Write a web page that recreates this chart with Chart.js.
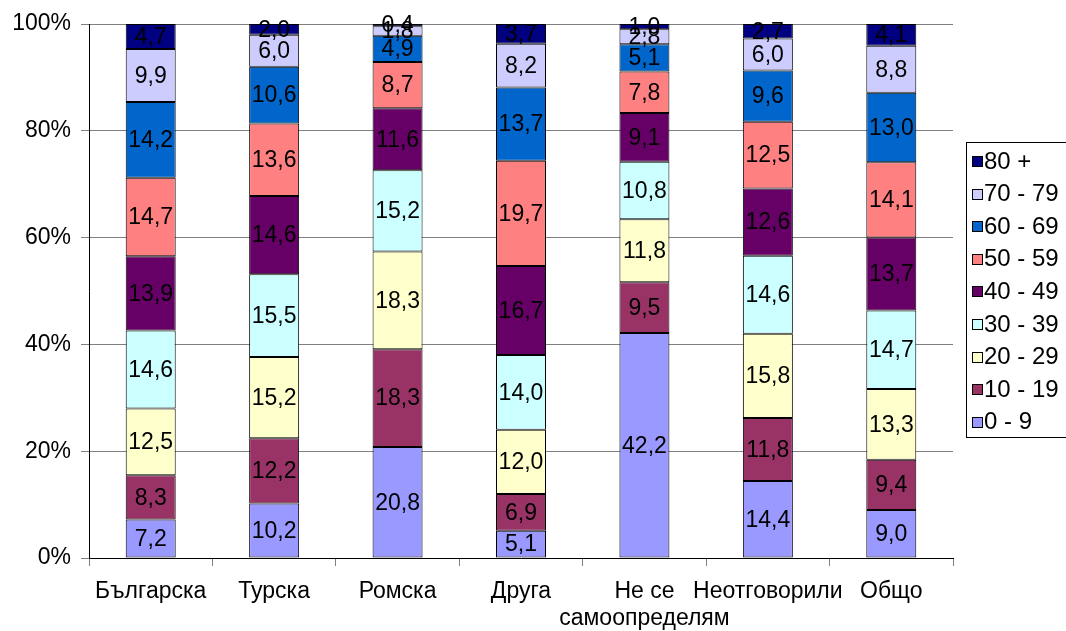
<!DOCTYPE html>
<html><head><meta charset="utf-8">
<script src="https://cdn.jsdelivr.net/npm/chart.js@4.4.0/dist/chart.umd.min.js"></script>
<style>html,body{margin:0;padding:0;background:#fff}#wrap{width:1066px;height:631px;position:relative}</style>
</head><body><div id="wrap"><canvas id="c" width="1066" height="631"></canvas></div>
<script>
const categories = ['Българска','Турска','Ромска','Друга',['Не се','самоопределям'],'Неотговорили','Общо'];
const ageGroups = ['0 - 9','10 - 19','20 - 29','30 - 39','40 - 49','50 - 59','60 - 69','70 - 79','80 +'];
const colors = ['#9999FF','#993366','#FFFFCC','#CCFFFF','#660066','#FF8080','#0066CC','#CCCCFF','#000080'];
const v0_9   = [7.2,10.2,20.8,5.1,42.2,14.4,9.0];
const v10_19 = [8.3,12.2,18.3,6.9,9.5,11.8,9.4];
const v20_29 = [12.5,15.2,18.3,12.0,11.8,15.8,13.3];
const v30_39 = [14.6,15.5,15.2,14.0,10.8,14.6,14.7];
const v40_49 = [13.9,14.6,11.6,16.7,9.1,12.6,13.7];
const v50_59 = [14.7,13.6,8.7,19.7,7.8,12.5,14.1];
const v60_69 = [14.2,10.6,4.9,13.7,5.1,9.6,13.0];
const v70_79 = [9.9,6.0,1.8,8.2,2.8,6.0,8.8];
const v80p   = [4.7,2.0,0.4,3.7,1.0,2.7,4.1];
const yTicks = ['0%','20%','40%','60%','80%','100%'];
const series = [v0_9,v10_19,v20_29,v30_39,v40_49,v50_59,v60_69,v70_79,v80p];

// normalize to 100% stacked
const totals = categories.map((_,i)=>series.reduce((s,a)=>s+a[i],0));
const datasets = series.map((arr,k)=>({
  label: ageGroups[k],
  data: arr.map((v,i)=>v/totals[i]*100),
  raw: arr,
  backgroundColor: colors[k],
  borderColor:'#000',
  borderWidth:1,
  borderSkipped:false,
  barPercentage:0.405,
  categoryPercentage:1.0
}));

const FONT = '"Liberation Sans", Arial, sans-serif';

const labelPlugin = {
  id:'segLabels',
  afterDatasetsDraw(chart){
    const ctx = chart.ctx;
    ctx.save();
    ctx.font = '23px '+FONT;
    ctx.fillStyle = '#000';
    ctx.textAlign='center';
    ctx.textBaseline='middle';
    chart.data.datasets.forEach((ds,di)=>{
      const meta = chart.getDatasetMeta(di);
      meta.data.forEach((el,i)=>{
        const t = ds.raw[i].toFixed(1).replace('.',',');
        const y = (el.y + el.base)/2;
        ctx.fillText(t, el.x, y+1);
      });
    });
    ctx.restore();
  }
};

const legendPlugin = {
  id:'boxLegend',
  afterDraw(chart){
    const ctx = chart.ctx;
    ctx.save();
    const x0=966.5, y0=142.5, w=120, h=295;
    ctx.fillStyle='#fff';
    ctx.fillRect(x0,y0,w,h);
    ctx.strokeStyle='#000'; ctx.lineWidth=1;
    ctx.strokeRect(x0,y0,w,h);
    ctx.font='24px '+FONT;
    ctx.textBaseline='middle'; ctx.textAlign='left';
    const n = chart.data.datasets.length;
    for(let j=0;j<n;j++){
      const ds = chart.data.datasets[n-1-j];
      const cy = 161 + j*32.6;
      const my = Math.round(cy-5)+0.5;
      ctx.fillStyle = ds.backgroundColor;
      ctx.fillRect(972.5, my, 10, 10);
      ctx.strokeStyle='#000';
      ctx.strokeRect(972.5, my, 10, 10);
      ctx.fillStyle='#000';
      ctx.fillText(ds.label, 984, cy+1);
    }
    ctx.restore();
  }
};

new Chart(document.getElementById('c'),{
  type:'bar',
  data:{labels:categories,datasets},
  plugins:[labelPlugin,legendPlugin],
  options:{
    responsive:false,
    animation:false,
    layout:{padding:{top:24,right:113,left:0,bottom:0}},
    plugins:{legend:{display:false},tooltip:{enabled:false}},
    scales:{
      x:{
        stacked:true,
        offset:true,
        grid:{offset:true,drawOnChartArea:false,drawTicks:true,tickLength:8,color:'#808080'},
        border:{display:true,color:'#000',width:1},
        ticks:{color:'#000',font:{family:FONT,size:23,lineHeight:1.17},padding:12,maxRotation:0,autoSkip:false},
        afterFit(s){s.height=73;}
      },
      y:{
        stacked:true,
        min:0,max:100,
        grid:{color:'#808080',drawTicks:true,tickLength:8},
        border:{display:true,color:'#000',width:1},
        ticks:{stepSize:20,color:'#000',font:{family:FONT,size:23},padding:10,
          callback:(v)=>yTicks[Math.round(v/20)]},
        afterFit(s){s.width=89;}
      }
    }
  }
});
</script></body></html>
